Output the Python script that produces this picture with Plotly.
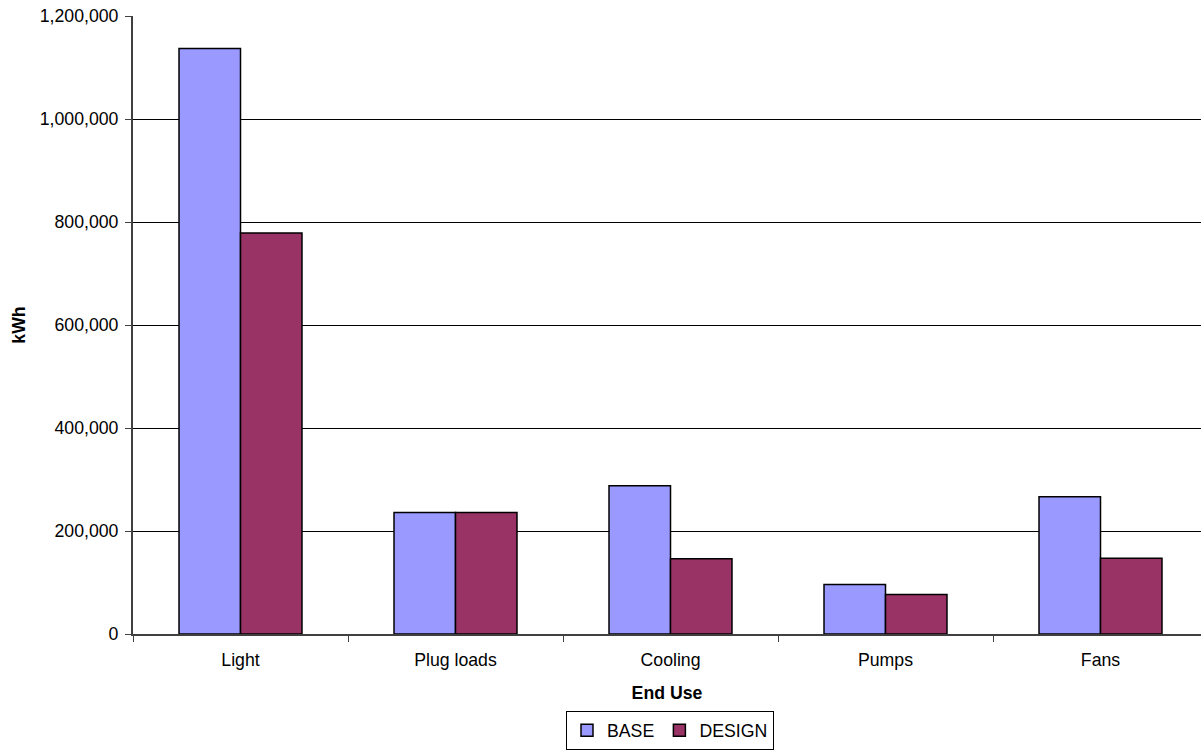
import plotly.graph_objects as go

categories = ["Light", "Plug loads", "Cooling", "Pumps", "Fans"]
base_kwh = [1137000, 236000, 288000, 96000, 266500]
design_kwh = [778700, 236000, 146300, 76600, 146900]
y_ticks = [0, 200000, 400000, 600000, 800000, 1000000, 1200000]

FONT = "Liberation Sans, Arial, sans-serif"

fig = go.Figure()
fig.add_trace(go.Bar(name="BASE", x=categories, y=base_kwh,
                     marker=dict(color="#9999FF", line=dict(color="black", width=1.5))))
fig.add_trace(go.Bar(name="DESIGN", x=categories, y=design_kwh,
                     marker=dict(color="#993366", line=dict(color="black", width=1.5))))

W, H = 1201, 753
L, T, B = 133, 15.5, 118.5
cat_w = 215.0
plot_h = H - T - B

fig.update_layout(
    width=W, height=H,
    margin=dict(l=L, r=0, t=T, b=B, pad=0),
    paper_bgcolor="white", plot_bgcolor="white",
    font=dict(family=FONT, size=17.7, color="black"),
    barmode="group", bargap=0.428, bargroupgap=0,
    showlegend=True,
    legend=dict(orientation="h", x=(670 - L) / (W - L), xanchor="center",
                y=(634.5 - 751) / plot_h, yanchor="bottom",
                bordercolor="black", borderwidth=1, bgcolor="white",
                font=dict(size=17.7), itemwidth=30, tracegroupgap=0),
    xaxis=dict(range=[-0.5, -0.5 + (W - L) / cat_w], showgrid=False,
               showline=True, linecolor="#404040", linewidth=2,
               ticks="outside", ticklen=6, tickcolor="#404040", tickwidth=1,
               tickson="boundaries", ticklabelstandoff=9,
               title=dict(text="<b>End Use</b>", standoff=17, font=dict(size=17.7))),
    yaxis=dict(range=[0, 1200000], tickvals=y_ticks, tickformat=",d",
               showgrid=True, gridcolor="black", gridwidth=1,
               showline=True, linecolor="#404040", linewidth=2,
               ticks="outside", ticklen=6, tickcolor="#404040", tickwidth=1,
               ticklabelstandoff=3, zeroline=False,
               title=dict(text="<b>kWh</b>", standoff=10, font=dict(size=17.7))),
)

fig.write_html("out.html")
